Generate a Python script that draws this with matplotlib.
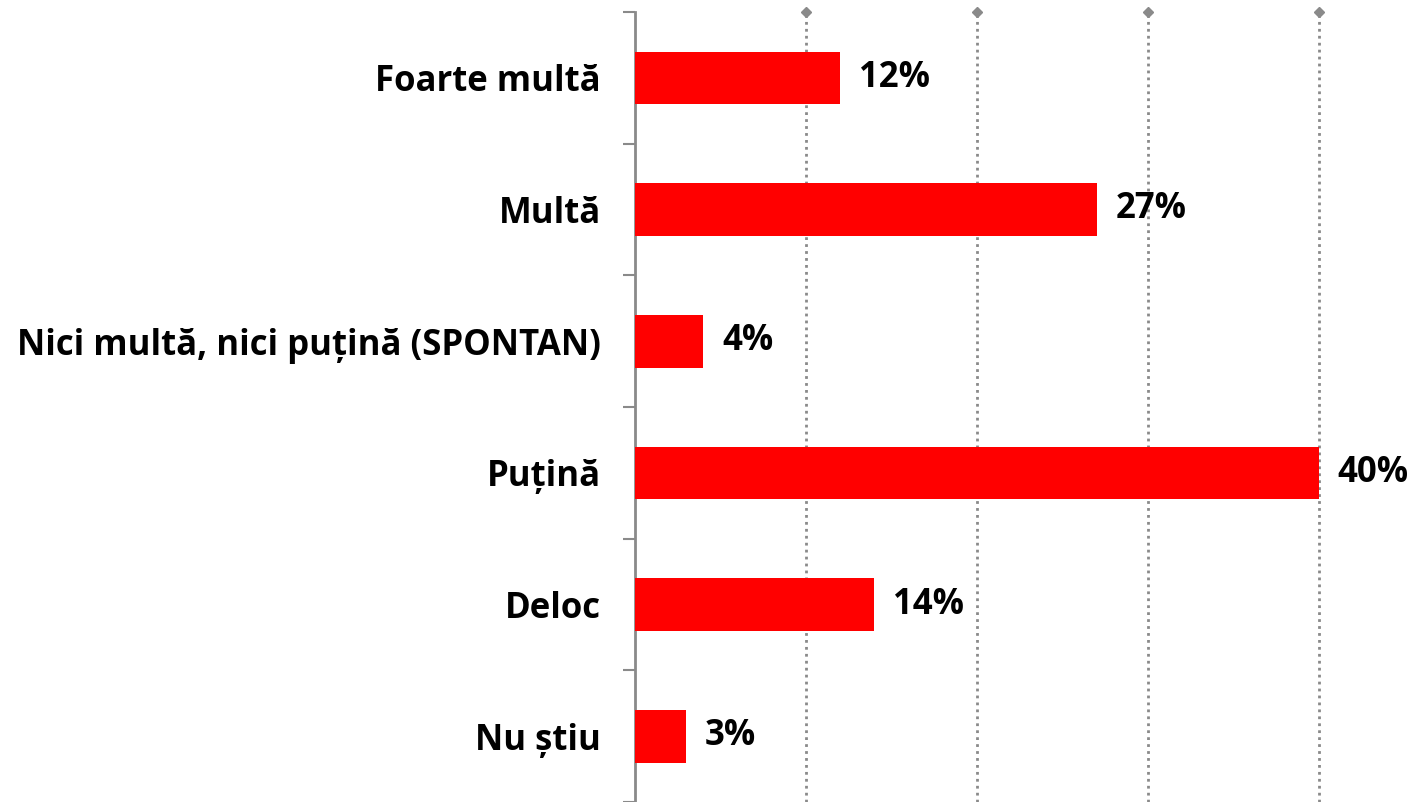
import matplotlib
matplotlib.use("Agg")
import matplotlib.pyplot as plt
import numpy as np

categories = [
    "Foarte multă",
    "Multă",
    "Nici multă, nici puțină (SPONTAN)",
    "Puțină",
    "Deloc",
    "Nu știu",
]
values = [12, 27, 4, 40, 14, 3]
grid_x = [10, 20, 30, 40]

plt.rcParams["font.family"] = ["Open Sans", "DejaVu Sans"]
GREY = "#8a8a8a"

fig = plt.figure(figsize=(14.17, 8.02), dpi=100)
ax = fig.add_axes([635 / 1417, 0, (45 * 17.1) / 1417, 790 / 802])

n = len(categories)
y = np.arange(n)
ax.barh(y, values, height=0.4, color="#ff0000", zorder=3)
ax.set_xlim(0, 45)
ax.set_ylim(n - 0.5, -0.5)

for xv in grid_x:
    ax.axvline(xv, color=GREY, linestyle=(0, (1, 1.5)), linewidth=2, zorder=1)
ax.plot(grid_x, [-0.5] * len(grid_x), "D", color=GREY, ms=5, clip_on=False, zorder=4)

for yi, v in zip(y, values):
    ax.text(v + 1.1, yi, f"{v}%", va="center", ha="left",
            fontsize=25, fontweight="bold", color="black")

ax.set_yticks(y)
ax.set_yticklabels(categories, fontsize=25, fontweight="bold")
ax.tick_params(axis="y", which="major", length=0, pad=24.5)
ax.set_yticks(np.arange(n + 1) - 0.5, minor=True)
ax.tick_params(axis="y", which="minor", length=9, width=1.5, color=GREY)
ax.set_xticks([])

for s in ["top", "right", "bottom"]:
    ax.spines[s].set_visible(False)
ax.spines["left"].set_color(GREY)
ax.spines["left"].set_linewidth(2)

fig.savefig("out.png", dpi=100)
